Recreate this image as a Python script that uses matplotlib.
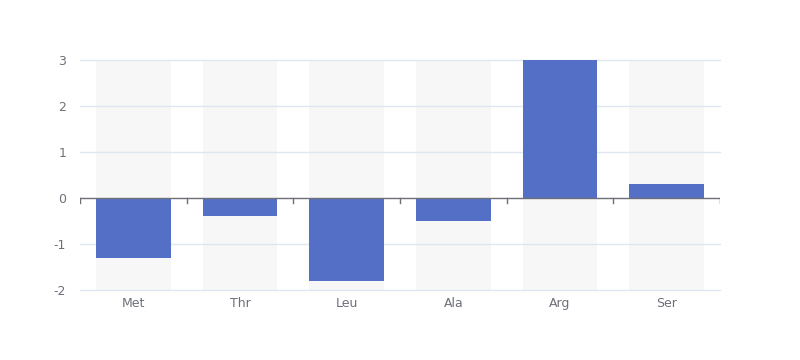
import numpy as np
import matplotlib.pyplot as plt

plt.rcParams['axes.unicode_minus'] = False

categories = ['Met', 'Thr', 'Leu', 'Ala', 'Arg', 'Ser']
values = [-1.3, -0.4, -1.8, -0.5, 3.0, 0.3]
yticks = [-2, -1, 0, 1, 2, 3]

bar_color = '#5470c6'
grid_color = '#e0e6f1'
axis_color = '#6e7079'
back_color = '#f7f7f7'

fig = plt.figure(figsize=(8, 3.6), dpi=100)
ax = fig.add_axes([0.1, 0.1944, 0.8, 0.6389])

x = np.arange(len(categories))
ymin, ymax = yticks[0], yticks[-1]

# background bars
ax.bar(x, ymax - ymin, bottom=ymin, width=0.7, color=back_color, zorder=1)
# grid lines
for y in yticks:
    if y != 0:
        ax.axhline(y, color=grid_color, lw=1, zorder=2, clip_on=False)
ax.bar(x, values, width=0.7, color=bar_color, zorder=3)

# zero axis line with category boundary ticks
ax.axhline(0, color=axis_color, lw=1, zorder=4)
tick_len = 5 / 46
for b in np.arange(len(categories) + 1) - 0.5:
    ax.plot([b, b], [0, -tick_len], color=axis_color, lw=1, zorder=4)

ax.set_xlim(-0.5, len(categories) - 0.5)
ax.set_ylim(ymin, ymax)
ax.set_xticks(x)
ax.set_xticklabels(categories)
ax.set_yticks(yticks)
ax.tick_params(axis='both', length=0, colors=axis_color, labelsize=9)
ax.tick_params(axis='x', pad=5)
ax.tick_params(axis='y', pad=10)
for s in ax.spines.values():
    s.set_visible(False)

fig.savefig('out.png')
